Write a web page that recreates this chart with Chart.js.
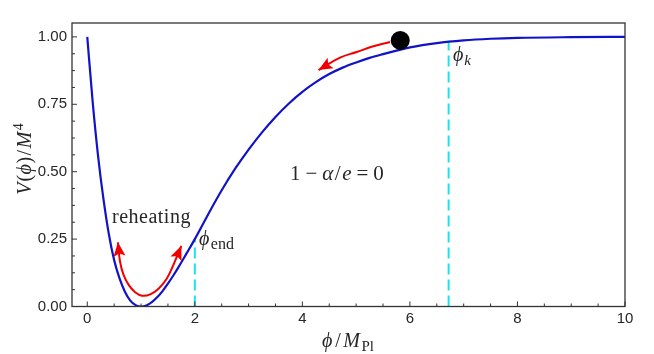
<!DOCTYPE html>
<html><head><meta charset="utf-8">
<script src="https://cdn.jsdelivr.net/npm/chart.js@4"></script>
<style>html,body{margin:0;padding:0;background:#fff}#wrap{width:654px;height:354px;position:relative}</style>
</head><body><div id="wrap"><canvas id="c" width="654" height="354"></canvas></div>
<script>
// ---- data ----
const phi = [0, 0.1, 0.2, 0.3, 0.4, 0.5, 0.6, 0.7, 0.8, 0.9, 1.0, 1.1, 1.2, 1.3, 1.4, 1.5, 1.6, 1.7, 1.8, 1.9, 2.0,
             2.25, 2.5, 2.75, 3.0, 3.25, 3.5, 3.75, 4.0, 4.25, 4.5, 4.75, 5.0, 5.25, 5.5, 5.75, 6.0, 6.5, 7.0, 7.5, 8.0, 9.0, 10.0];
const potential = [1.0, 0.76, 0.56, 0.40, 0.27, 0.172, 0.104, 0.055, 0.022, 0.005, 0.0, 0.004, 0.016, 0.034, 0.057, 0.085, 0.115, 0.147, 0.181, 0.215, 0.25,
             0.3425, 0.431, 0.511, 0.582, 0.646, 0.703, 0.753, 0.796, 0.832, 0.862, 0.886, 0.905, 0.922, 0.936, 0.949, 0.961, 0.977, 0.987, 0.993, 0.9965, 0.999, 1.0];
const endPhi = [2, 2];         const endV = [0, 0.25];
const kPhi = [6.72, 6.72];     const kV = [0, 0.981];
const ballPhi = [5.82];        const ballV = [0.987];
const rollPhi = [5.63, 5.32, 5.01, 4.70, 4.30];
const rollV   = [0.981, 0.965, 0.944, 0.923, 0.877];
const reheatPhi = [0.57, 0.61, 0.675, 0.77, 0.89, 1.02, 1.17, 1.33, 1.48, 1.61, 1.75];
const reheatV   = [0.238, 0.166, 0.117, 0.08, 0.053, 0.04, 0.045, 0.067, 0.104, 0.158, 0.225];
const xTickValues = [0, 2, 4, 6, 8, 10];
const xTickLabels = ['0', '2', '4', '6', '8', '10'];
const yTickValues = [0, 0.25, 0.5, 0.75, 1.0];
const yTickLabels = ['0.00', '0.25', '0.50', '0.75', '1.00'];
const xMinorTicks = [0.5, 1, 1.5, 2.5, 3, 3.5, 4.5, 5, 5.5, 6.5, 7, 7.5, 8.5, 9, 9.5];
const yMinorTicks = [0.0625, 0.125, 0.1875, 0.3125, 0.375, 0.4375, 0.5625, 0.625, 0.6875, 0.8125, 0.875, 0.9375];

const pts = (xs, ys) => xs.map((v, i) => ({x: v, y: ys[i]}));

const SERIF = '"Liberation Serif", "DejaVu Serif", serif';
const BLUE = '#1212c6', RED = '#f20000', CYAN = '#18e2f2', INK = '#262626';

function rich(ctx, segs, x, y, align) {
  let w = 0;
  for (const s of segs) { ctx.font = s[1]; w += ctx.measureText(s[0]).width + (s[3] || 0); }
  let cx = align === 'center' ? x - w / 2 : x;
  for (const s of segs) {
    ctx.font = s[1];
    ctx.fillText(s[0], cx, y + (s[2] || 0));
    cx += ctx.measureText(s[0]).width + (s[3] || 0);
  }
}

const decor = {
  id: 'decor',
  afterDatasetsDraw(chart) {
    const ctx = chart.ctx;
    chart.data.datasets.forEach((ds, i) => {
      if (!ds.heads) return;
      const el = chart.getDatasetMeta(i).data;
      const draw = (tip, prev) => {
        const ang = Math.atan2(tip.y - prev.y, tip.x - prev.x);
        const L = 14, W = 6;
        ctx.save();
        ctx.translate(tip.x, tip.y);
        ctx.rotate(ang);
        ctx.beginPath();
        ctx.moveTo(0, 0);
        ctx.lineTo(-L, -W);
        ctx.lineTo(-L * 0.8, 0);
        ctx.lineTo(-L, W);
        ctx.closePath();
        ctx.fillStyle = ds.borderColor;
        ctx.fill();
        ctx.restore();
      };
      if (ds.heads.includes('end')) draw(el[el.length - 1], el[el.length - 2]);
      if (ds.heads.includes('start')) draw(el[0], el[1]);
    });
  },
  afterDraw(chart) {
    const {ctx, chartArea: a, scales: {x, y}} = chart;
    ctx.save();
    ctx.strokeStyle = '#333';
    ctx.lineWidth = 1;
    ctx.beginPath();
    xTickValues.forEach(v => { const p = x.getPixelForValue(v); ctx.moveTo(p, a.bottom); ctx.lineTo(p, a.bottom - 5); });
    xMinorTicks.forEach(v => { const p = x.getPixelForValue(v); ctx.moveTo(p, a.bottom); ctx.lineTo(p, a.bottom - 3); });
    yTickValues.forEach(v => { const p = y.getPixelForValue(v); ctx.moveTo(a.left, p); ctx.lineTo(a.left + 5, p); });
    yMinorTicks.forEach(v => { const p = y.getPixelForValue(v); ctx.moveTo(a.left, p); ctx.lineTo(a.left + 3, p); });
    ctx.stroke();
    ctx.lineWidth = 1.3;
    ctx.strokeRect(a.left, a.top, a.right - a.left, a.bottom - a.top);

    ctx.fillStyle = INK;
    ctx.textBaseline = 'alphabetic';
    ctx.textAlign = 'left';
    const I = s => 'italic ' + s + 'px ' + SERIF;
    const N = s => s + 'px ' + SERIF;

    // x-axis title
    rich(ctx, [['\u03D5', I(20), 0, 3], ['/', N(20), 0, 2.5], ['M', I(20), 0, 1.5], ['Pl', N(15), 4, 0]], 348, 347, 'center');
    // y-axis title
    ctx.save();
    ctx.translate(31, 159);
    ctx.rotate(-Math.PI / 2);
    rich(ctx, [['V', I(20), 0, 1], ['(', N(20), 0, 0.5], ['\u03D5', I(20), 0, 0.5], [')', N(20), 0, 1.5], ['/', N(20), 0, 1.5], ['M', I(20), 0, 1.5], ['4', N(14), -8, 0]], 0, 0, 'center');
    ctx.restore();

    // annotations
    rich(ctx, [['\u03D5', I(20), 0, 1], ['k', I(15), 4, 0]], 453, 61, 'left');
    rich(ctx, [['\u03D5', I(20), 0, 1.5], ['end', N(16), 3.5, 0]], 199, 245, 'left');
    ctx.save();
    if ('letterSpacing' in ctx) ctx.letterSpacing = '0.5px';
    rich(ctx, [['reheating', N(20), 0, 0]], 112, 223, 'left');
    ctx.restore();
    rich(ctx, [['1', N(21), 0, 5], ['\u2212', N(21), 0, 5], ['\u03B1', I(21), 0, 1.5], ['/', N(21), 0, 1.5], ['e', I(21), 0, 5], ['=', N(21), 0, 5], ['0', N(21), 0, 0]], 290, 180, 'left');
    ctx.restore();
  }
};

new Chart(document.getElementById('c'), {
  type: 'line',
  data: {
    datasets: [
      {data: pts(ballPhi, ballV), showLine: false, pointRadius: 9.5, pointBackgroundColor: '#000', pointBorderWidth: 0, pointBorderColor: '#000'},
      {data: pts(phi, potential), borderColor: BLUE, borderWidth: 2.2, pointRadius: 0, cubicInterpolationMode: 'monotone', fill: false},
      {data: pts(rollPhi, rollV), borderColor: RED, borderWidth: 2, pointRadius: 0, tension: 0.4, fill: false, heads: ['end']},
      {data: pts(reheatPhi, reheatV), borderColor: RED, borderWidth: 2, pointRadius: 0, tension: 0.4, fill: false, heads: ['start', 'end']},
      {data: pts(endPhi, endV), borderColor: CYAN, borderWidth: 2, borderDash: [11, 5], pointRadius: 0, fill: false},
      {data: pts(kPhi, kV), borderColor: CYAN, borderWidth: 2, borderDash: [11, 5], pointRadius: 0, fill: false}
    ]
  },
  options: {
    responsive: false,
    animation: false,
    events: [],
    layout: {padding: {top: 23, right: 29, left: 0, bottom: 0}},
    plugins: {legend: {display: false}, tooltip: {enabled: false}},
    scales: {
      x: {
        type: 'linear', min: -0.284, max: 10,
        grid: {display: false, drawTicks: false},
        border: {display: false},
        afterBuildTicks: s => { s.ticks = xTickValues.map(v => ({value: v})); },
        afterFit: s => { s.height = 354 - 306.5; },
        ticks: {
          padding: 3, color: INK, font: {family: '"Liberation Sans", Arial, sans-serif', size: 15},
          maxRotation: 0, autoSkip: false,
          callback: v => xTickLabels[xTickValues.indexOf(v)]
        }
      },
      y: {
        type: 'linear', min: 0, max: 1.0515,
        grid: {display: false, drawTicks: false},
        border: {display: false},
        afterBuildTicks: s => { s.ticks = yTickValues.map(v => ({value: v})); },
        afterFit: s => { s.width = 72; },
        ticks: {
          padding: 5, color: INK, font: {family: '"Liberation Sans", Arial, sans-serif', size: 15},
          autoSkip: false,
          callback: v => yTickLabels[yTickValues.indexOf(v)]
        }
      }
    }
  },
  plugins: [decor]
});
</script>
</body></html>
